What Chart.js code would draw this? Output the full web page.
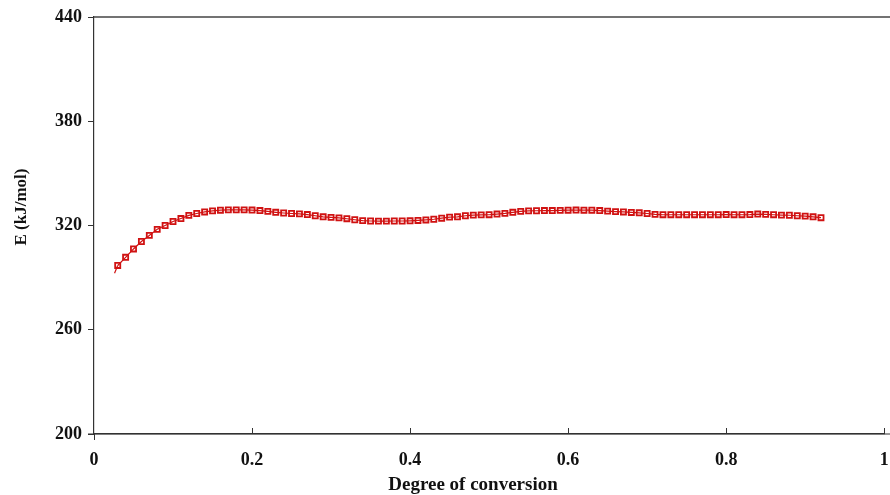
<!DOCTYPE html>
<html>
<head>
<meta charset="utf-8">
<script src="https://cdn.jsdelivr.net/npm/chart.js@4.4.1/dist/chart.umd.min.js"></script>
<style>
  html, body { margin: 0; padding: 0; background: #ffffff; }
  #wrap { width: 890px; height: 495px; position: relative; }
</style>
</head>
<body>
<div id="wrap"><canvas id="c" width="890" height="495"></canvas></div>
<script>
// Degree of conversion (x)
const alpha = [0.03,0.04,0.05,0.06,0.07,0.08,0.09,0.10,0.11,0.12,
  0.13,0.14,0.15,0.16,0.17,0.18,0.19,0.20,0.21,0.22,
  0.23,0.24,0.25,0.26,0.27,0.28,0.29,0.30,0.31,0.32,
  0.33,0.34,0.35,0.36,0.37,0.38,0.39,0.40,0.41,0.42,
  0.43,0.44,0.45,0.46,0.47,0.48,0.49,0.50,0.51,0.52,
  0.53,0.54,0.55,0.56,0.57,0.58,0.59,0.60,0.61,0.62,
  0.63,0.64,0.65,0.66,0.67,0.68,0.69,0.70,0.71,0.72,
  0.73,0.74,0.75,0.76,0.77,0.78,0.79,0.80,0.81,0.82,
  0.83,0.84,0.85,0.86,0.87,0.88,0.89,0.90,0.91,0.92];
// Activation energy E (kJ/mol)
const energy = [297.0,301.7,306.5,310.8,314.3,317.8,320.0,322.3,324.0,325.8,
  326.9,327.8,328.4,328.8,329.0,329.0,329.0,328.9,328.6,328.1,
  327.6,327.2,326.9,326.7,326.3,325.6,325.0,324.7,324.4,323.9,
  323.3,322.8,322.6,322.5,322.5,322.6,322.6,322.7,322.9,323.2,
  323.6,324.2,324.8,325.0,325.6,326.0,326.1,326.2,326.6,327.0,
  327.6,328.1,328.4,328.5,328.6,328.6,328.7,328.8,328.9,328.8,
  328.8,328.6,328.3,328.0,327.8,327.5,327.3,326.9,326.4,326.2,
  326.2,326.2,326.2,326.2,326.2,326.2,326.2,326.3,326.2,326.2,
  326.3,326.6,326.4,326.2,326.0,325.9,325.6,325.4,325.0,324.5];
// short lead-in of the connecting line below the first point
const leadAlpha = [0.026, 0.03];
const leadEnergy = [292.5, 297.0];

const xTicks = [0, 0.2, 0.4, 0.6, 0.8, 1];
const xTickLabels = ['0', '0.2', '0.4', '0.6', '0.8', '1'];
const yTicks = [200, 260, 320, 380, 440];
const xTitle = 'Degree of conversion';
const yTitle = 'E (kJ/mol)';

const RED = '#d01212';
const AXIS = '#333333';
const FONT = "'Liberation Serif', 'Times New Roman', serif";

const pts = alpha.map((a, i) => ({ x: a, y: energy[i] }));
const lead = leadAlpha.map((a, i) => ({ x: a, y: leadEnergy[i] }));

const decor = {
  id: 'decor',
  afterDraw(chart) {
    const ctx = chart.ctx;
    const xs = chart.scales.x;
    const ca = chart.chartArea;
    ctx.save();
    // top frame line
    ctx.strokeStyle = '#444444';
    ctx.lineWidth = 1.5;
    ctx.beginPath();
    ctx.moveTo(ca.left, ca.top);
    ctx.lineTo(chart.width, ca.top);
    ctx.stroke();
    // bottom axis line runs on to the right edge
    ctx.strokeStyle = AXIS;
    ctx.lineWidth = 1.2;
    ctx.beginPath();
    ctx.moveTo(ca.left - 6, ca.bottom);
    ctx.lineTo(chart.width, ca.bottom);
    ctx.stroke();
    // x tick marks pointing into the plot, the 0 tick pointing down
    ctx.lineWidth = 1;
    xTicks.forEach(v => {
      const px = Math.round(xs.getPixelForValue(v)) + 0.5;
      ctx.beginPath();
      if (v === 0) {
        ctx.moveTo(px, ca.bottom);
        ctx.lineTo(px, ca.bottom + 6);
      } else {
        ctx.moveTo(px, ca.bottom);
        ctx.lineTo(px, ca.bottom - 6);
      }
      ctx.stroke();
    });
    // axis titles
    ctx.fillStyle = '#111111';
    ctx.textAlign = 'center';
    ctx.textBaseline = 'middle';
    ctx.font = "bold 19px " + FONT;
    ctx.fillText(xTitle, 473, 485);
    ctx.translate(22, 207);
    ctx.rotate(-Math.PI / 2);
    ctx.font = "bold 17px " + FONT;
    ctx.fillText(yTitle, 0, 0);
    ctx.restore();
  }
};

new Chart(document.getElementById('c'), {
  type: 'scatter',
  data: {
    datasets: [
      {
        label: 'lead',
        data: lead,
        showLine: true,
        borderColor: RED,
        borderWidth: 1.2,
        pointRadius: 0,
        fill: false
      },
      {
        label: 'E',
        data: pts,
        showLine: true,
        borderColor: RED,
        borderWidth: 1.2,
        pointStyle: 'rect',
        pointRadius: 3.6,
        pointBorderWidth: 1.8,
        pointBorderColor: RED,
        pointBackgroundColor: 'rgba(255,255,255,0)',
        fill: false
      }
    ]
  },
  options: {
    responsive: false,
    animation: false,
    layout: { padding: { top: 17, right: 1, left: 0, bottom: 0 } },
    plugins: { legend: { display: false }, tooltip: { enabled: false } },
    scales: {
      x: {
        type: 'linear',
        min: 0, max: 1,
        afterBuildTicks: s => { s.ticks = xTicks.map(v => ({ value: v })); },
        ticks: {
          color: '#111111',
          font: { family: FONT, size: 18, weight: 'bold' },
          padding: 16,
          maxRotation: 0,
          autoSkip: false,
          callback: (v) => { const i = xTicks.indexOf(v); return i >= 0 ? xTickLabels[i] : ''; }
        },
        grid: { display: true, drawOnChartArea: false, drawTicks: false, color: AXIS },
        border: { display: true, color: AXIS, width: 1.2 },
        afterFit: s => { s.height = 61; s.paddingLeft = 0; s.paddingRight = 0; }
      },
      y: {
        type: 'linear',
        min: 200, max: 440,
        afterBuildTicks: s => { s.ticks = yTicks.map(v => ({ value: v })); },
        ticks: {
          color: '#111111',
          font: { family: FONT, size: 18, weight: 'bold' },
          padding: 6,
          autoSkip: false
        },
        grid: { display: true, drawOnChartArea: false, drawTicks: true, tickLength: 6, color: AXIS },
        border: { display: true, color: AXIS, width: 1.2 },
        afterFit: s => { s.width = 94; s.paddingTop = 0; s.paddingBottom = 0; }
      }
    }
  },
  plugins: [decor]
});
</script>
</body>
</html>
